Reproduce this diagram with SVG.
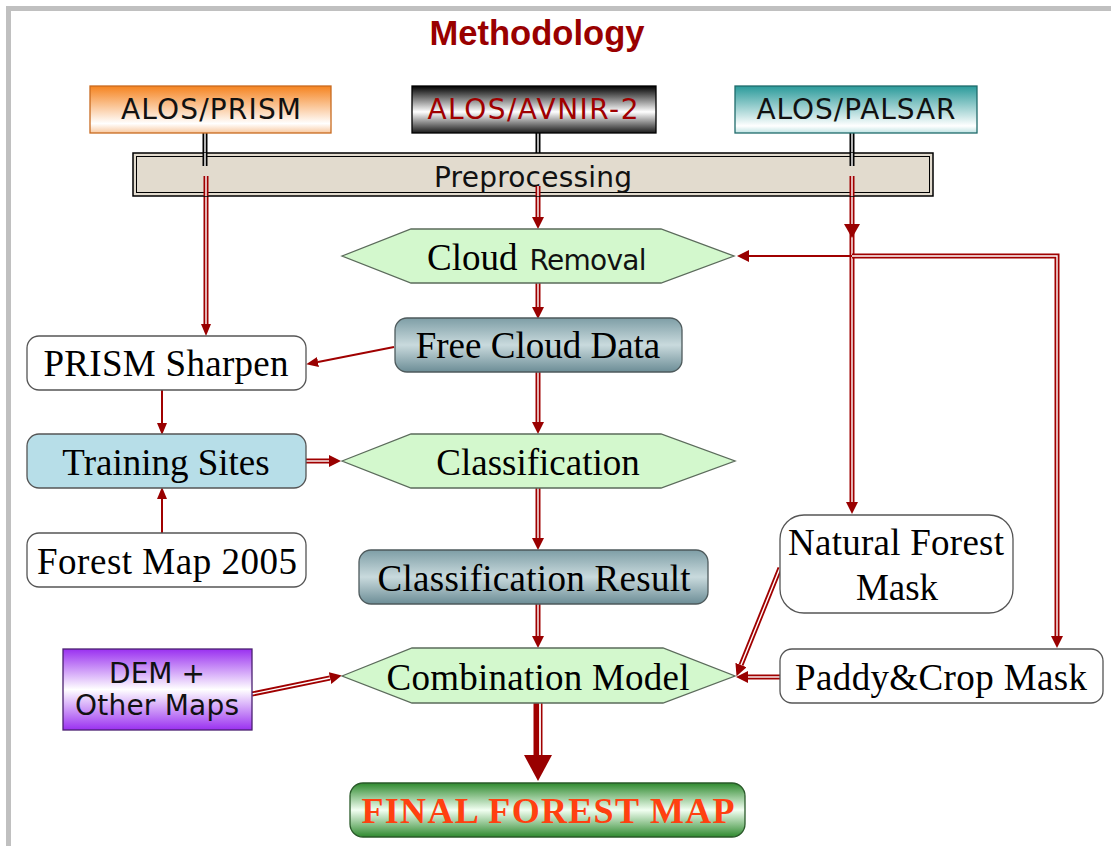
<svg xmlns="http://www.w3.org/2000/svg" width="1111" height="846" viewBox="0 0 1111 846">
<defs>
<linearGradient id="gOrange" x1="0" y1="0" x2="0" y2="1"><stop offset="0" stop-color="#f5831f"/><stop offset="0.8" stop-color="#ffffff"/><stop offset="1" stop-color="#f9c9a0"/></linearGradient>
<linearGradient id="gBlack" x1="0" y1="0" x2="0" y2="1"><stop offset="0" stop-color="#000000"/><stop offset="0.55" stop-color="#ffffff"/><stop offset="1" stop-color="#1a1a1a"/></linearGradient>
<linearGradient id="gTeal" x1="0" y1="0" x2="0" y2="1"><stop offset="0" stop-color="#2a9a9a"/><stop offset="0.85" stop-color="#ffffff"/><stop offset="1" stop-color="#bfe3e3"/></linearGradient>
<linearGradient id="gPurple" x1="0" y1="0" x2="0" y2="1"><stop offset="0" stop-color="#9a30f0"/><stop offset="0.5" stop-color="#ffffff"/><stop offset="1" stop-color="#9a30f0"/></linearGradient>
<linearGradient id="gSlate" x1="0" y1="0" x2="0" y2="1"><stop offset="0" stop-color="#7e9ea6"/><stop offset="0.5" stop-color="#c9dadd"/><stop offset="1" stop-color="#6c8d96"/></linearGradient>
<linearGradient id="gGreen" x1="0" y1="0" x2="0" y2="1"><stop offset="0" stop-color="#2f8a2f"/><stop offset="0.5" stop-color="#f2fff2"/><stop offset="1" stop-color="#2f8a2f"/></linearGradient>
<marker id="ah" viewBox="0 0 12 12" markerWidth="12" markerHeight="12" refX="0" refY="6" orient="auto" markerUnits="userSpaceOnUse"><path d="M0,0 L12,6 L0,12 z" fill="#990000"/></marker>
<marker id="ahS" viewBox="0 0 12 10" markerWidth="12" markerHeight="10" refX="0" refY="5" orient="auto" markerUnits="userSpaceOnUse"><path d="M0,0 L12,5 L0,10 z" fill="#990000"/></marker>
<marker id="ahB" viewBox="0 0 26 28" markerWidth="26" markerHeight="28" refX="0" refY="14" orient="auto" markerUnits="userSpaceOnUse"><path d="M0,0 L26,14 L0,28 z" fill="#990000"/></marker>
<style>
.serif{font-family:"Liberation Serif","Times New Roman",serif;font-size:37px;fill:#000}
.sans{font-family:"DejaVu Sans",Verdana,sans-serif;font-size:28px;fill:#111}
.hex{fill:#d3f8cd;stroke:#5b6b5b;stroke-width:1.3}
.wbox{fill:#ffffff;stroke:#555;stroke-width:1.3}
.dr{fill:none;stroke:#a00000;stroke-width:5}
.dw{fill:none;stroke:#ffffff;stroke-width:1.4}
.sr{fill:none;stroke:#a00000;stroke-width:2}
.db{fill:none;stroke:#000;stroke-width:5}
</style>
</defs>
<rect x="0" y="0" width="1111" height="846" fill="#ffffff"/>
<rect x="6" y="6" width="1105" height="5" fill="#c0c0c0"/>
<rect x="6" y="6" width="5" height="840" fill="#c0c0c0"/>
<text x="537" y="45" text-anchor="middle" font-family="Liberation Sans, Arial, sans-serif" font-weight="bold" font-size="35" fill="#990000" textLength="215" lengthAdjust="spacingAndGlyphs">Methodology</text>

<g id="connectors">
<path class="db" d="M205,132 V166 M538,132 V176 M852,132 V166"/>
<path class="dw" d="M205,132 V166 M538,132 V176 M852,132 V166"/>
<path class="dr" d="M206,176 V324" marker-end="url(#ahS)"/><path class="dw" d="M206,176 V324"/>
<path class="dr" d="M538,186 V217" marker-end="url(#ah)"/><path class="dw" d="M538,186 V217"/>
<path class="dr" d="M852,176 V502" marker-end="url(#ah)"/><path class="dw" d="M852,176 V502"/>
<path d="M844,224 L860,224 L852,238 z" fill="#990000"/>
<path class="sr" d="M852,256 H749" stroke-width="2.5" marker-end="url(#ah)"/>
<path class="dr" d="M852,256 H1057 V636" marker-end="url(#ah)"/><path class="dw" d="M852,256 H1057 V636"/>
<path class="dr" d="M538,283 V307" marker-end="url(#ah)"/><path class="dw" d="M538,283 V307"/>
<path class="sr" d="M394,347 L318,362" marker-end="url(#ahS)"/>
<path class="sr" d="M162,390 V423" marker-end="url(#ahS)"/>
<path class="sr" d="M162,533 V499" marker-end="url(#ahS)"/>
<path class="dr" d="M305,461 H329" marker-end="url(#ah)"/><path class="dw" d="M305,461 H329"/>
<path class="dr" d="M538,372 V422" marker-end="url(#ah)"/><path class="dw" d="M538,372 V422"/>
<path class="dr" d="M538,488 V538" marker-end="url(#ah)"/><path class="dw" d="M538,488 V538"/>
<path class="dr" d="M538,604 V636" marker-end="url(#ah)"/><path class="dw" d="M538,604 V636"/>
<path class="dr" d="M252,694 L330,678" marker-end="url(#ah)"/><path class="dw" d="M252,694 L330,678"/>
<path class="dr" d="M780,568 L741,665" marker-end="url(#ah)"/><path class="dw" d="M780,568 L741,665"/>
<path class="dr" d="M780,677 H748" marker-end="url(#ah)"/><path class="dw" d="M780,677 H748"/>
<path fill="none" stroke="#a00000" stroke-width="9" d="M538,703 V755" marker-end="url(#ahB)"/>
<path fill="none" stroke="#ffffff" stroke-width="1.8" d="M540,703 V755"/>
</g>

<g id="alos-prism">
<rect x="90" y="86" width="241" height="47" fill="url(#gOrange)" stroke="#c86a20" stroke-width="1.3"/>
<text class="sans" x="211" y="119" text-anchor="middle" font-size="30" textLength="180">ALOS/PRISM</text>
</g>
<g id="alos-avnir2">
<rect x="412" y="86" width="244" height="47" fill="url(#gBlack)" stroke="#000" stroke-width="1.3"/>
<text class="sans" x="533" y="119" text-anchor="middle" font-size="30" style="fill:#a00000" textLength="211">ALOS/AVNIR-2</text>
</g>
<g id="alos-palsar">
<rect x="735" y="86" width="242" height="47" fill="url(#gTeal)" stroke="#1f6b6b" stroke-width="1.3"/>
<text class="sans" x="856" y="119" text-anchor="middle" font-size="30" textLength="199">ALOS/PALSAR</text>
</g>
<g id="preprocessing">
<rect x="133" y="153" width="800" height="43" fill="#e2dbce" stroke="#000" stroke-width="1.5"/>
<rect x="136.5" y="156.5" width="793" height="36" fill="none" stroke="#000" stroke-width="1"/>
<path class="db" d="M205,153 V166 M852,153 V166"/>
<path class="dw" d="M205,153 V166 M852,153 V166"/>
<path class="dr" d="M206,176 V196 M852,176 V196"/><path class="dw" d="M206,176 V196 M852,176 V196"/>
<text class="sans" x="533" y="187" text-anchor="middle" textLength="198">Preprocessing</text>
<path class="dr" d="M538,186 V196"/><path class="dw" d="M538,186 V196"/>
</g>
<g id="cloud-removal">
<polygon class="hex" points="342,256 411,229 661,229 734,256 661,283 411,283"/>
<text x="427" y="270" class="serif">Cloud<tspan class="sans" dx="12" textLength="117">Removal</tspan></text>
</g>
<g id="free-cloud-data">
<rect x="395" y="318" width="287" height="54" rx="12" fill="url(#gSlate)" stroke="#4e5a5c" stroke-width="1.3"/>
<text class="serif" x="538" y="358" text-anchor="middle">Free Cloud Data</text>
</g>
<g id="prism-sharpen">
<rect class="wbox" x="27" y="336" width="279" height="54" rx="12"/>
<text class="serif" x="166" y="376" text-anchor="middle" textLength="245">PRISM Sharpen</text>
</g>
<g id="training-sites">
<rect x="27" y="434" width="279" height="54" rx="12" fill="#b7dee8" stroke="#555" stroke-width="1.3"/>
<text class="serif" x="166" y="475" text-anchor="middle">Training Sites</text>
</g>
<g id="forest-map-2005">
<rect class="wbox" x="27" y="533" width="279" height="54" rx="12"/>
<text class="serif" x="167" y="574" text-anchor="middle" textLength="260">Forest Map 2005</text>
</g>
<g id="classification">
<polygon class="hex" points="342,461 411,434 661,434 735,461 661,488 411,488"/>
<text class="serif" x="538" y="475" text-anchor="middle">Classification</text>
</g>
<g id="classification-result">
<rect x="359" y="550" width="349" height="54" rx="12" fill="url(#gSlate)" stroke="#4e5a5c" stroke-width="1.3"/>
<text class="serif" x="534" y="591" text-anchor="middle" textLength="313">Classification Result</text>
</g>
<g id="natural-forest-mask">
<rect class="wbox" x="780" y="515" width="233" height="98" rx="24"/>
<text class="serif" x="896" y="555" text-anchor="middle" textLength="216">Natural Forest</text>
<text class="serif" x="897" y="600" text-anchor="middle">Mask</text>
</g>
<g id="paddy-crop-mask">
<rect class="wbox" x="780" y="649" width="323" height="54" rx="12"/>
<text class="serif" x="941" y="690" text-anchor="middle" textLength="292">Paddy&amp;Crop Mask</text>
</g>
<g id="dem-other-maps">
<rect x="63" y="649" width="189" height="81" fill="url(#gPurple)" stroke="#4b2070" stroke-width="1.3"/>
<text class="sans" x="157" y="683" text-anchor="middle">DEM +</text>
<text class="sans" x="157" y="715" text-anchor="middle" textLength="164">Other Maps</text>
</g>
<g id="combination-model">
<polygon class="hex" points="342,676 412,648 663,648 735,676 663,703 412,703"/>
<text class="serif" x="538" y="690" text-anchor="middle" textLength="303">Combination Model</text>
</g>
<g id="final-forest-map">
<rect x="350" y="783" width="395" height="54" rx="13" fill="url(#gGreen)" stroke="#2a5a2a" stroke-width="1.3"/>
<text x="548" y="823" text-anchor="middle" font-family="Liberation Serif, Times New Roman, serif" font-weight="bold" font-size="36" fill="#ff4010" textLength="373">FINAL FOREST MAP</text>
</g>
</svg>
